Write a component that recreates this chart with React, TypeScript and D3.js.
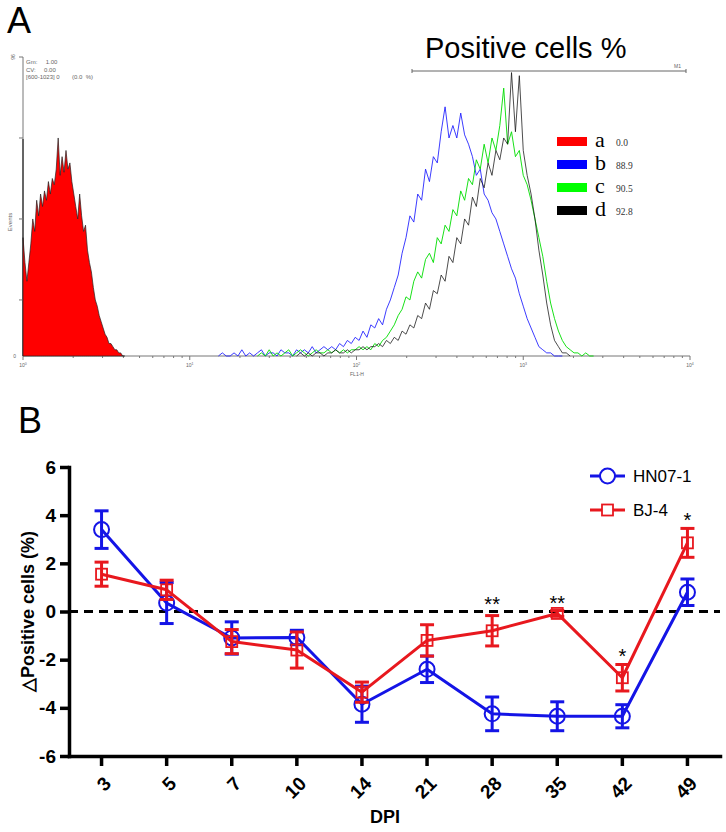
import * as d3 from "d3";
import React, { useRef, useEffect } from "react";

const W = 726;
const H = 832;

// ---- Panel A: flow histogram, counts per FL1-H channel (0-1023 = 4 decades)
const redStart = 0;
const redStep = 3;
const redCounts = [
    38, 30, 24, 30, 36, 44, 40, 50, 45, 52, 48, 53, 50, 56, 52, 57, 55, 60, 70, 58,
    64, 59, 66, 60, 62, 56, 52, 48, 44, 52, 45, 40, 42, 34, 30, 27, 22, 18, 16, 13,
    11, 9, 7, 6, 4, 4, 3, 2, 2, 1, 1, 0, 0,
];
const blueStart = 300;
const blueStep = 6;
const blueCounts = [
    0, 1, 0, 0, 1, 0, 2, 0, 1, 0, 1, 2, 0, 1, 1, 0, 2, 1, 1, 0,
    2, 1, 2, 1, 3, 1, 2, 3, 2, 3, 2, 4, 3, 5, 4, 6, 5, 8, 6, 10,
    9, 12, 10, 15, 18, 22, 26, 33, 38, 45, 43, 52, 50, 60, 56, 64, 62, 72, 80, 70,
    74, 70, 78, 71, 68, 64, 58, 60, 52, 50, 46, 44, 40, 36, 32, 28, 25, 20, 16, 12,
    9, 6, 3, 2, 1, 1, 0, 0, 0,
];
const greenStart = 360;
const greenStep = 6;
const greenCounts = [
    0, 1, 0, 2, 0, 1, 0, 1, 2, 0, 1, 2, 1, 0, 1, 2, 1, 1, 2, 1,
    2, 1, 2, 1, 2, 2, 3, 2, 3, 2, 4, 3, 5, 6, 8, 10, 13, 15, 19, 18,
    24, 27, 25, 31, 33, 30, 38, 36, 42, 40, 47, 45, 53, 50, 57, 55, 63, 60, 68, 62,
    70, 66, 74, 86, 68, 72, 64, 66, 58, 55, 50, 44, 38, 32, 24, 17, 12, 8, 5, 3,
    2, 1, 1, 0, 1, 0, 0,
];
const blackStart = 420;
const blackStep = 6;
const blackCounts = [
    0, 1, 0, 1, 0, 1, 1, 0, 1, 1, 2, 1, 1, 2, 1, 2, 2, 3, 2, 3,
    3, 4, 3, 5, 4, 6, 5, 8, 7, 10, 9, 13, 12, 17, 15, 21, 20, 26, 24, 32,
    30, 38, 36, 44, 42, 51, 48, 57, 54, 62, 58, 66, 63, 70, 68, 91, 72, 90, 66, 58,
    52, 44, 34, 26, 17, 10, 5, 3, 1, 1, 0,
];
const histYTicks = [18, 44, 70, 96];
const histDecades = [1, 10, 100, 1000, 10000];
const legendKeys = ["a", "b", "c", "d"];
const legendValues = ["0.0", "88.9", "90.5", "92.8"];
const statLines = ["Gm:     1.00", "CV:     0.00", "[600-1023] 0"];

// ---- Panel B: delta positive cells by DPI
const dpi = ["3", "5", "7", "10", "14", "21", "28", "35", "42", "49"];
const hnMean = [3.4, 0.35, -1.1, -1.08, -3.85, -2.4, -4.25, -4.35, -4.35, 0.8];
const hnErr = [0.78, 0.85, 0.67, 0.3, 0.75, 0.55, 0.7, 0.6, 0.48, 0.55];
const bjMean = [1.55, 0.9, -1.25, -1.6, -3.35, -1.2, -0.8, -0.08, -2.75, 2.85];
const bjErr = [0.5, 0.4, 0.5, 0.75, 0.42, 0.65, 0.63, 0.12, 0.55, 0.6];
const sigLabels = ["", "", "", "", "", "", "**", "**", "*", "*"];
const yTicks = [6, 4, 2, 0, -2, -4, -6];

const SANS = "'Liberation Sans', Arial, sans-serif";
const SERIF = "'Liberation Serif', 'Times New Roman', serif";
const BLUE = "#1414e6";
const RED = "#e8181e";

function App() {
    const ref = useRef<SVGSVGElement>(null);

    useEffect(() => {
        const svg = d3.select(ref.current);
        svg.selectAll("*").remove();
        drawA(svg);
        drawB(svg);
    }, []);

    const drawA = (svg: any) => {
        const chX = d3.scaleLinear().domain([0, 1024]).range([23, 690]);
        const logX = d3.scaleLog().domain([1, 10000]).range([23, 690]);
        const cntY = d3.scaleLinear().domain([0, 96]).range([356, 57]);
        const pts = (start: number, step: number, counts: number[]) =>
            counts.map((c, i) => [start + i * step, c] as [number, number]);

        svg.append("text")
            .attr("x", 7).attr("y", 33)
            .attr("font-family", SANS).attr("font-size", 36)
            .text("A");

        // axes
        const ax = svg.append("g").attr("stroke", "#777").attr("stroke-width", 1);
        ax.append("line").attr("x1", 23).attr("x2", 23).attr("y1", 57).attr("y2", 356);
        ax.append("line").attr("x1", 23).attr("x2", 23).attr("y1", 139).attr("y2", 356).attr("stroke", "#111");
        ax.append("line").attr("x1", 23).attr("x2", 690).attr("y1", 356).attr("y2", 356);
        histYTicks.forEach((t) =>
            ax.append("line").attr("x1", 19).attr("x2", 23).attr("y1", cntY(t)).attr("y2", cntY(t))
        );
        logX.ticks().forEach((t) => {
            const major = histDecades.includes(t);
            ax.append("line")
                .attr("x1", logX(t)).attr("x2", logX(t))
                .attr("y1", 356).attr("y2", 356 + (major ? 4 : 2));
        });

        const small = svg.append("g").attr("font-family", SANS).attr("fill", "#666");
        small.append("text").attr("x", 16).attr("y", 358).attr("font-size", 5).attr("text-anchor", "end").text("0");
        small.append("text").attr("transform", "translate(15,57) rotate(-90)")
            .attr("font-size", 5).attr("text-anchor", "middle").text("96");
        small.append("text").attr("transform", "translate(12,222) rotate(-90)")
            .attr("font-size", 6).attr("text-anchor", "middle").text("Events");
        small.append("text").attr("x", 357).attr("y", 376).attr("font-size", 5)
            .attr("text-anchor", "middle").text("FL1-H");
        histDecades.forEach((d, i) => {
            const t = small.append("text").attr("x", logX(d)).attr("y", 367)
                .attr("font-size", 5).attr("text-anchor", "middle");
            t.append("tspan").text("10");
            t.append("tspan").attr("dy", -2).attr("font-size", 3.5).text(String(i));
        });
        statLines.forEach((s, i) =>
            small.append("text").attr("x", 26).attr("y", 64 + i * 7.5)
                .attr("font-size", 6).attr("xml:space", "preserve").text(s)
        );
        small.append("text").attr("x", 72).attr("y", 79).attr("font-size", 6)
            .attr("xml:space", "preserve").text("(0.0  %)");

        // histograms
        const area = d3.area<[number, number]>()
            .x((d) => chX(d[0])).y0(cntY(0)).y1((d) => cntY(d[1]));
        const line = d3.line<[number, number]>()
            .x((d) => chX(d[0])).y((d) => cntY(d[1]));

        svg.append("path")
            .attr("d", area(pts(redStart, redStep, redCounts)))
            .attr("fill", "#ff0000").attr("stroke", "#222").attr("stroke-width", 0.7);
        svg.append("path")
            .attr("d", line(pts(blueStart, blueStep, blueCounts)))
            .attr("fill", "none").attr("stroke", "#1a1aff").attr("stroke-opacity", 0.85).attr("stroke-width", 1);
        svg.append("path")
            .attr("d", line(pts(greenStart, greenStep, greenCounts)))
            .attr("fill", "none").attr("stroke", "#00dd00").attr("stroke-opacity", 0.9).attr("stroke-width", 1);
        svg.append("path")
            .attr("d", line(pts(blackStart, blackStep, blackCounts)))
            .attr("fill", "none").attr("stroke", "#111").attr("stroke-opacity", 0.75).attr("stroke-width", 1);

        // marker M1
        const m = svg.append("g").attr("stroke", "#666").attr("stroke-width", 1);
        m.append("line").attr("x1", 412).attr("x2", 686).attr("y1", 71).attr("y2", 71);
        m.append("line").attr("x1", 412).attr("x2", 412).attr("y1", 69).attr("y2", 73);
        m.append("line").attr("x1", 686).attr("x2", 686).attr("y1", 69).attr("y2", 73);
        svg.append("text").attr("x", 674).attr("y", 68).attr("font-family", SANS)
            .attr("font-size", 5).attr("fill", "#666").text("M1");

        svg.append("text")
            .attr("x", 425).attr("y", 58)
            .attr("font-family", SANS).attr("font-size", 29)
            .text("Positive cells %");

        // legend
        const legColors = ["#ff0000", "#0000ff", "#00ff00", "#000000"];
        legendKeys.forEach((k, i) => {
            const y = 141 + i * 23;
            svg.append("rect").attr("x", 557).attr("y", y - 4).attr("width", 30).attr("height", 9)
                .attr("fill", legColors[i]);
            svg.append("text").attr("x", 595).attr("y", y + 6).attr("font-family", SERIF)
                .attr("font-size", 22).text(k);
            svg.append("text").attr("x", 616).attr("y", y + 5).attr("font-family", SERIF)
                .attr("font-size", 9.5).attr("fill", "#333").text(legendValues[i]);
        });
    };

    const drawB = (svg: any) => {
        const xB = d3.scaleBand().domain(dpi).range([69, 720]);
        const cx = (d: string) => (xB(d) as number) + xB.bandwidth() / 2;
        const yB = d3.scaleLinear().domain([-6, 6]).range([756, 467]);

        svg.append("text")
            .attr("x", 18).attr("y", 433)
            .attr("font-family", SANS).attr("font-size", 36)
            .text("B");

        // zero line
        svg.append("line")
            .attr("x1", 69).attr("x2", 720).attr("y1", yB(0)).attr("y2", yB(0))
            .attr("stroke", "#000").attr("stroke-width", 3).attr("stroke-dasharray", "9,6");

        const styleAxis = (g: any) => {
            g.attr("font-family", SANS).attr("font-size", 19).attr("font-weight", "bold");
            g.select(".domain").attr("stroke-width", 3.5).attr("stroke-linecap", "square");
            g.selectAll(".tick line").attr("stroke-width", 3.5);
            g.selectAll(".tick text").attr("fill", "#000");
        };

        const gy = svg.append("g").attr("transform", "translate(69,0)")
            .call(d3.axisLeft(yB).tickValues(yTicks).tickSize(9).tickSizeOuter(0).tickPadding(4)
                .tickFormat((d: any) => String(d)));
        styleAxis(gy);

        const gx = svg.append("g").attr("transform", "translate(0,756)")
            .call(d3.axisBottom(xB).tickSize(10).tickSizeOuter(0));
        styleAxis(gx);
        gx.selectAll(".tick text")
            .attr("x", 0).attr("y", 0).attr("dy", "0.35em")
            .attr("text-anchor", "end")
            .attr("transform", "translate(6,24) rotate(-45)");

        svg.append("text")
            .attr("x", 385).attr("y", 823).attr("text-anchor", "middle")
            .attr("font-family", SANS).attr("font-size", 18).attr("font-weight", "bold")
            .text("DPI");
        svg.append("text")
            .attr("transform", `translate(34,${yB(0)}) rotate(-90)`)
            .attr("text-anchor", "middle")
            .attr("font-family", SANS).attr("font-size", 18).attr("font-weight", "bold")
            .text("\u25B3Positive cells (%)");

        const drawSeries = (mean: number[], err: number[], color: string, shape: string) => {
            const g = svg.append("g");
            const line = d3.line<number>().x((_, i) => cx(dpi[i])).y((d) => yB(d));
            g.append("path").attr("d", line(mean)).attr("fill", "none")
                .attr("stroke", color).attr("stroke-width", 3).attr("stroke-linejoin", "round");
            mean.forEach((m, i) => {
                const x = cx(dpi[i]);
                const e = err[i];
                const eb = g.append("g").attr("stroke", color).attr("stroke-width", 3);
                eb.append("line").attr("x1", x).attr("x2", x).attr("y1", yB(m - e)).attr("y2", yB(m + e));
                eb.append("line").attr("x1", x - 7).attr("x2", x + 7).attr("y1", yB(m - e)).attr("y2", yB(m - e));
                eb.append("line").attr("x1", x - 7).attr("x2", x + 7).attr("y1", yB(m + e)).attr("y2", yB(m + e));
                if (shape === "circle") {
                    g.append("circle").attr("cx", x).attr("cy", yB(m)).attr("r", 7.5)
                        .attr("fill", "none").attr("stroke", color).attr("stroke-width", 2);
                } else {
                    g.append("rect").attr("x", x - 5.5).attr("y", yB(m) - 5.5).attr("width", 11).attr("height", 11)
                        .attr("fill", "none").attr("stroke", color).attr("stroke-width", 1.8);
                }
            });
        };
        drawSeries(hnMean, hnErr, BLUE, "circle");
        drawSeries(bjMean, bjErr, RED, "square");

        // significance marks sit above the red error bar (lifted over the zero line when close to it)
        sigLabels.forEach((s, i) => {
            if (!s) return;
            let top = yB(bjMean[i] + bjErr[i]);
            if (Math.abs(top - yB(0)) < 12) top = Math.min(top, yB(0));
            svg.append("text")
                .attr("x", cx(dpi[i])).attr("y", top - 1)
                .attr("text-anchor", "middle")
                .attr("font-family", SANS).attr("font-size", 20)
                .text(s);
        });

        // legend
        const leg = [
            { name: "HN07-1", color: BLUE, shape: "circle", y: 476 },
            { name: "BJ-4", color: RED, shape: "square", y: 510 },
        ];
        leg.forEach((l) => {
            svg.append("line").attr("x1", 590).attr("x2", 625).attr("y1", l.y).attr("y2", l.y)
                .attr("stroke", l.color).attr("stroke-width", 3);
            if (l.shape === "circle") {
                svg.append("circle").attr("cx", 607.5).attr("cy", l.y).attr("r", 7.5)
                    .attr("fill", "white").attr("stroke", l.color).attr("stroke-width", 2);
            } else {
                svg.append("rect").attr("x", 602).attr("y", l.y - 5.5).attr("width", 11).attr("height", 11)
                    .attr("fill", "white").attr("stroke", l.color).attr("stroke-width", 1.8);
            }
            svg.append("text").attr("x", 633).attr("y", l.y + 6)
                .attr("font-family", SANS).attr("font-size", 17).text(l.name);
        });
    };

    return (
        <svg
            ref={ref}
            width={W}
            height={H}
            style={{ position: "absolute", left: 0, top: 0, background: "#fff" }}
        />
    );
}

export default App;
